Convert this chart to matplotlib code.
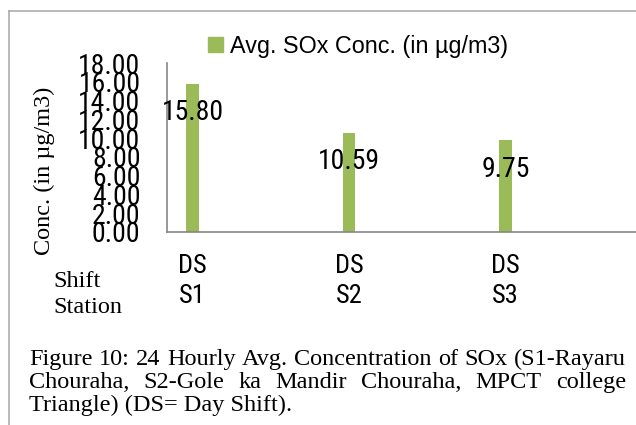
import matplotlib
matplotlib.use('Agg')
import matplotlib.pyplot as plt
from matplotlib.lines import Line2D
from matplotlib.patches import Patch
from matplotlib import font_manager

# ---- data ----
shift_labels = ['DS', 'DS', 'DS']
station_labels = ['S1', 'S2', 'S3']
values = [15.80, 10.59, 9.75]
yticks = [0, 2, 4, 6, 8, 10, 12, 14, 16, 18]
series_name = 'Avg. SOx Conc. (in µg/m3)'
ylabel = 'Conc. (in µg/m3)'
row_labels = ['Shift', 'Station']
caption_lines = [
    'Figure 10: 24 Hourly Avg. Concentration of SOx (S1-Rayaru',
    'Chouraha, S2-Gole ka Mandir Chouraha, MPCT college',
    'Triangle) (DS= Day Shift).',
]

W, H = 636, 425
GREEN = '#9BBB59'
AXGRAY = '#868686'

installed = {f.name for f in font_manager.fontManager.ttflist}
narrow_candidates = ['Liberation Sans Narrow', 'Roboto Condensed', 'DejaVu Sans Condensed',
                     'Open Sans Condensed', 'Noto Sans Condensed']
NARROW = [n for n in narrow_candidates if n in installed] + ['Liberation Sans', 'DejaVu Sans']
SANS = ['Liberation Sans', 'DejaVu Sans']
SERIF = ['Liberation Serif', 'DejaVu Serif']

fig = plt.figure(figsize=(W / 100, H / 100), dpi=100)

def fx(px):
    return px / W

def fy(py):
    return 1 - py / H

# outer frame (top and left)
fig.add_artist(Line2D([fx(9), 1.0], [fy(11), fy(11)], color='#a6a6a6', lw=1.1))
fig.add_artist(Line2D([fx(9), fx(9)], [fy(11), 0.0], color='#a6a6a6', lw=1.1))

ax = fig.add_axes([fx(167), fy(232), 1 - fx(167), (232 - 63) / H])
x = list(range(len(values)))
ax.bar(x, values, width=0.083, color=GREEN, zorder=2)
ax.set_xlim(-0.163, 2.834)
ax.set_ylim(0, 18)
ax.set_yticks(yticks)
ax.set_yticklabels([f'{v:.2f}' for v in yticks], fontfamily=NARROW, fontsize=20)
ax.tick_params(axis='y', length=0, pad=19)
ax.set_xticks(x)
ax.set_xticklabels([f'{a}\n{b}' for a, b in zip(shift_labels, station_labels)],
                   fontfamily=NARROW, fontsize=19, linespacing=1.3)
ax.tick_params(axis='x', length=0, pad=16)
for s in ['top', 'right']:
    ax.spines[s].set_visible(False)
for s in ['left', 'bottom']:
    ax.spines[s].set_color(AXGRAY)
    ax.spines[s].set_linewidth(1.2)

for xi, v in zip(x, values):
    ax.annotate(f'{v:.2f}', (xi, v), xytext=(0, -29), textcoords='offset pixels',
                ha='center', va='center', fontsize=20, fontfamily=NARROW)

# legend
fig.legend(handles=[Patch(color=GREEN)], labels=[series_name],
           loc='center left', bbox_to_anchor=(fx(208), fy(46)),
           frameon=False, handlelength=0.65, handleheight=0.65,
           handletextpad=0.3, borderpad=0, borderaxespad=0,
           prop={'family': SANS, 'size': 16.8})

# y label
fig.text(fx(44), fy(171), ylabel, rotation=90, ha='center', va='center',
         fontfamily=SERIF, fontsize=17.5)

# row labels
fig.text(fx(53), fy(287), row_labels[0], ha='left', va='baseline',
         fontfamily=SERIF, fontsize=17.5)
fig.text(fx(53), fy(313), row_labels[1], ha='left', va='baseline',
         fontfamily=SERIF, fontsize=17.5)

# caption (justified)
fig.canvas.draw()
renderer = fig.canvas.get_renderer()
x0, x1 = 29, 626
baselines = [365, 388, 411]
for i, (line, yb) in enumerate(zip(caption_lines, baselines)):
    if i < len(caption_lines) - 1:
        words = line.split(' ')
        texts = [fig.text(0, 0, w, ha='left', va='baseline', fontfamily=SERIF,
                          fontsize=17.5) for w in words]
        widths = [t.get_window_extent(renderer).width for t in texts]
        gap = (x1 - x0 - sum(widths)) / (len(words) - 1)
        pos = x0
        for t, w in zip(texts, widths):
            t.set_position((fx(pos), fy(yb)))
            pos += w + gap
    else:
        fig.text(fx(x0), fy(yb), line, ha='left', va='baseline',
                 fontfamily=SERIF, fontsize=17.5)

fig.savefig('out.png', dpi=100)
